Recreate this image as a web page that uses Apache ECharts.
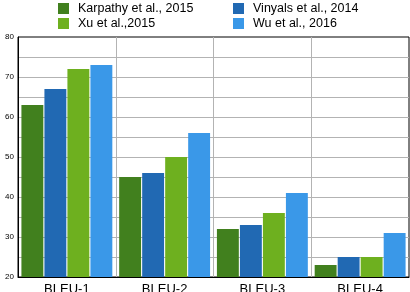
<!DOCTYPE html>
<html><head><meta charset="utf-8">
<script src="https://cdn.jsdelivr.net/npm/echarts@6/dist/echarts.min.js"></script>
<style>html,body{margin:0;padding:0;background:#fff}#c{width:410px;height:292px}</style>
</head><body><div id="c"></div>
<script>
const categories = ['BLEU-1','BLEU-2','BLEU-3','BLEU-4'];
const seriesNames = ['Karpathy et al., 2015','Vinyals et al., 2014','Xu et al.,2015','Wu et al., 2016'];
const karpathy = [63,45,32,23];
const vinyals = [67,46,33,25];
const xu = [72,50,36,25];
const wu = [73,56,41,31];
const yTicks = [20,30,40,50,60,70,80];
const colors = ['#41801e','#2169b3','#6eb01f','#3a98e8'];
const values = [karpathy, vinyals, xu, wu];
const font = 'Liberation Sans, Arial, sans-serif';
const chart = echarts.init(document.getElementById('c'), null, {renderer:'canvas'});
chart.setOption({
  animation:false,
  legend:[
    {left:58,top:1,padding:[1,0,0,0],orient:'vertical',itemWidth:11,itemHeight:11,itemGap:2,icon:'rect',
     data:[seriesNames[0],seriesNames[2]],textStyle:{fontFamily:font,fontSize:12.5,color:'#000',padding:[0,0,0,4]}},
    {left:233,top:1,padding:[1,0,0,0],orient:'vertical',itemWidth:11,itemHeight:11,itemGap:2,icon:'rect',
     data:[seriesNames[1],seriesNames[3]],textStyle:{fontFamily:font,fontSize:12.5,color:'#000',padding:[0,0,0,4]}}
  ],
  grid:{left:18,right:1,top:37,bottom:15,outerBoundsMode:'none',containLabel:false,show:true,borderColor:'#000',borderWidth:1,backgroundColor:'transparent'},
  xAxis:{type:'category',data:categories,
    axisLine:{lineStyle:{color:'#000',width:1}},axisTick:{show:false},
    splitLine:{show:true,showMinLine:false,showMaxLine:false,lineStyle:{color:'#b3b3b3',width:1}},
    axisLabel:{fontFamily:font,fontSize:13,color:'#000',margin:6}},
  yAxis:{type:'value',min:20,max:80,interval:5,
    axisLine:{show:true,lineStyle:{color:'#000',width:1}},axisTick:{show:false},
    splitLine:{show:true,showMinLine:false,showMaxLine:false,lineStyle:{color:'#b3b3b3',width:1}},
    axisLabel:{fontFamily:font,fontSize:8,color:'#000',margin:4,
      formatter:v=>yTicks.includes(v)?String(v):''}},
  series: values.map((d,i)=>({name:seriesNames[i],type:'bar',data:d,
    itemStyle:{color:colors[i]},barGap:'5%',barCategoryGap:'7%'}))
});
</script></body></html>
